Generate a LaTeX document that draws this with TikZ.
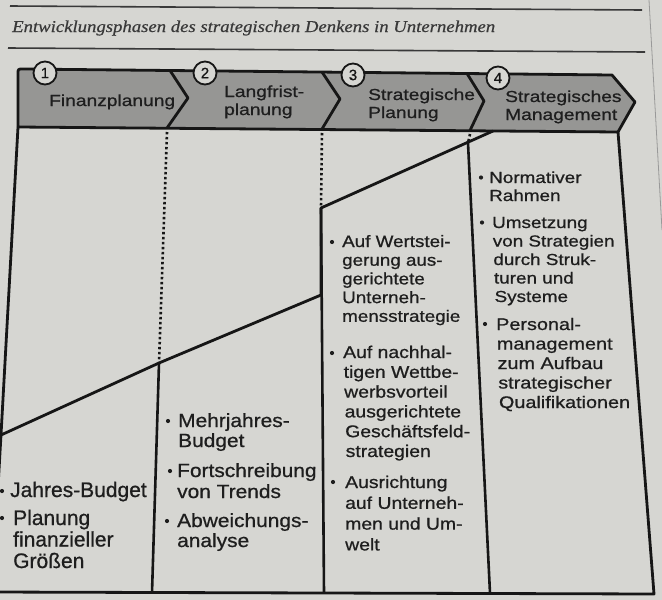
\documentclass[tikz,border=0pt]{standalone}
\usepackage{fontspec}
\usepackage{graphicx}
\newfontfamily\fsHead[FakeStretch=1.2,FakeBold=0.8]{Liberation Sans}
\newfontfamily\fsD[FakeStretch=1.18,FakeBold=0.8]{Liberation Sans}
\newfontfamily\fsC[FakeStretch=1.14,FakeBold=0.8]{Liberation Sans}
\newfontfamily\fsB[FakeStretch=1.1,FakeBold=0.8]{Liberation Sans}
\newfontfamily\fsA[FakeBold=0.8]{Liberation Sans}
\newfontfamily\fsTitle[FakeBold=0.5]{Liberation Serif}
\definecolor{paper}{RGB}{214,214,210}
\definecolor{hdr}{RGB}{150,150,148}
\definecolor{ink}{RGB}{22,22,22}
\definecolor{tink}{RGB}{30,30,30}
\tikzset{
  rule/.style={draw=ink!85, line width=1.6pt},
  pageedge/.style={draw=black!40, line width=0.8pt},
  frame/.style={draw=ink, line width=2.8pt, line join=round},
  sepline/.style={draw=ink, line width=2.6pt},
  dotsep/.style={draw=ink, line width=2.6pt, dash pattern=on 2.4pt off 2.6pt},
  numc/.style={circle, draw=ink, line width=1.8pt, fill=paper, minimum size=23pt, inner sep=0pt, text=ink, font=\fsA\fontsize{15pt}{15pt}\selectfont},
  txt/.style={anchor=base west, inner sep=0pt, text=tink},
  fH/.style={font=\fsHead\fontsize{16pt}{18pt}\selectfont},
  fD/.style={font=\fsD\fontsize{16pt}{18pt}\selectfont},
  fDD/.style={font=\fsD\fontsize{16.8pt}{18pt}\selectfont},
  fC/.style={font=\fsC\fontsize{16.5pt}{18pt}\selectfont},
  fCC/.style={font=\fsC\fontsize{17pt}{18pt}\selectfont},
  fB/.style={font=\fsB\fontsize{19pt}{20pt}\selectfont},
  fA/.style={font=\fsA\fontsize{21pt}{22pt}\selectfont},
  bul/.style={circle, fill=tink, inner sep=0pt, minimum size=4.2pt},
}
\begin{document}
\begin{tikzpicture}[x=1pt, y=-1pt]
\useasboundingbox (0,0) rectangle (662,600);
\fill[paper] (0,0) rectangle (662,600);
\begin{scope}
\clip (0,0) rectangle (662,600);
% title area
\draw[rule] (10,6) -- (642,10);
\draw[rule] (8,48) -- (645,52);
\draw[pageedge] (649,0) -- (662,230);
\node[anchor=base west, inner sep=0pt, text=ink!85] (title) at (12,32)
  {\resizebox{483pt}{11.5pt}{\fsTitle\itshape Entwicklungsphasen des strategischen Denkens in Unternehmen}};
% header band
\draw[frame, fill=hdr] (18,127) -- (18,74) .. controls (18,69) .. (23,69) -- (612,75) -- (635,102) -- (618,132) -- cycle;
\draw[frame] (170,70.5) -- (188,98) -- (167,128);
\draw[frame] (322,72) -- (340,99) -- (322,129);
\draw[frame] (467,73.5) -- (484,101) -- (470,130.5);
% body frame
\draw[frame] (18,127) -- (1,435) -- (-8,592) -- (654,594) -- (618,132);
% column separators
\draw[dotsep] (167,132) -- (159,363);
\draw[sepline] (159,363) -- (152,593);
\draw[dotsep] (322,133) -- (321,208);
\draw[sepline] (321,208) -- (324,593);
\draw[dotsep] (470,134) -- (468,143);
\draw[sepline] (468,143) -- (490,593);
% staircase
\draw[frame] (1,435) -- (159,363) -- (321,295) -- (321,208) -- (493,131);
% numbers
\node[numc] (n1) at (45,73) {1};
\node[numc] (n2) at (205,73) {2};
\node[numc] (n3) at (353,75) {3};
\node[numc] (n4) at (498,78) {4};
% header labels
\node[txt,fH] (h1) at (49,106) {Finanzplanung};
\node[txt,fH] (h2a) at (224,97) {Langfrist-};
\node[txt,fH] (h2b) at (224,115) {planung};
\node[txt,fH] (h3a) at (368,100) {Strategische};
\node[txt,fH] (h3b) at (368,118) {Planung};
\node[txt,fH] (h4a) at (505,102) {Strategisches};
\node[txt,fH] (h4b) at (505,120) {Management};
% column 4
\node[bul] (b41) at (481,177.5) {};
\foreach \t [count=\i from 0] in {Normativer, Rahmen}
  \node[txt,fD] (t41-\i) at (489,{183+\i*18}) {\t};
\node[bul] (b42) at (482,222.5) {};
\foreach \t [count=\i from 0] in {Umsetzung, von Strategien, durch Struk-, turen und, Systeme}
  \node[txt,fD] (t42-\i) at ({492+\i*0.6},{228+\i*18.5}) {\t};
\node[bul] (b43) at (485,324) {};
\foreach \t [count=\i from 0] in {Personal-, management, zum Aufbau, strategischer, Qualifikationen}
  \node[txt,fDD] (t43-\i) at ({496+\i*0.7},{330+\i*19.5}) {\t};
% column 3
\node[bul] (b31) at (332,242) {};
\foreach \t [count=\i from 0] in {Auf Wertstei-, gerung aus-, gerichtete, Unterneh-, mensstrategie}
  \node[txt,fC] (t31-\i) at (342,{247+\i*18.7}) {\t};
\node[bul] (b32) at (332,353) {};
\foreach \t [count=\i from 0] in {Auf nachhal-, tigen Wettbe-, werbsvorteil, ausgerichtete, Geschäftsfeld-, strategien}
  \node[txt,fCC] (t32-\i) at ({343+\i*0.5},{358+\i*19.8}) {\t};
\node[bul] (b33) at (333,482) {};
\foreach \t [count=\i from 0] in {Ausrichtung, auf Unterneh-, men und Um-, welt}
  \node[txt,fCC] (t33-\i) at (345,{488+\i*20.8}) {\t};
% column 2
\node[bul] (b21) at (168,421) {};
\foreach \t [count=\i from 0] in {Mehrjahres-, Budget}
  \node[txt,fB] (t21-\i) at (178,{427+\i*20}) {\t};
\node[bul] (b22) at (170,471) {};
\foreach \t [count=\i from 0] in {Fortschreibung, von Trends}
  \node[txt,fB] (t22-\i) at (177,{477+\i*21}) {\t};
\node[bul] (b23) at (167,521) {};
\foreach \t [count=\i from 0] in {Abweichungs-, analyse}
  \node[txt,fB] (t23-\i) at (177,{527+\i*20}) {\t};
% column 1
\node[bul] (b11) at (2,491) {};
\node[txt,fA] (t11) at (10,497) {Jahres-Budget};
\node[bul] (b12) at (2,518) {};
\foreach \t [count=\i from 0] in {Planung, finanzieller, Größen}
  \node[txt,fA] (t12-\i) at (13,{525+\i*21.5}) {\t};
\end{scope}
\end{tikzpicture}
\end{document}
